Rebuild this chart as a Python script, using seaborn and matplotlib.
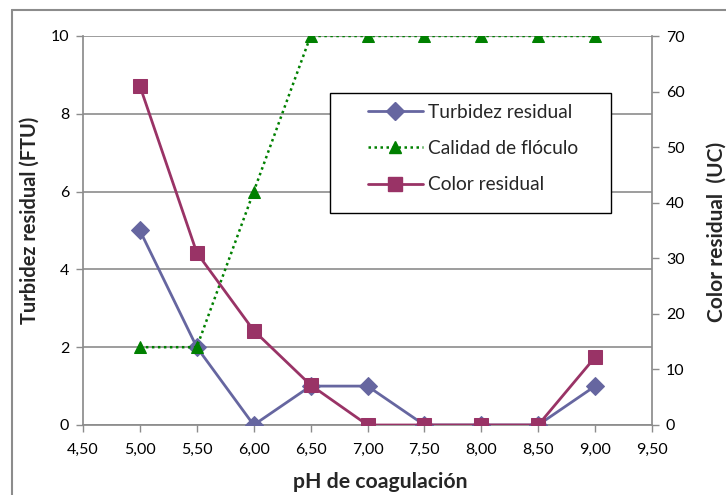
import matplotlib
matplotlib.use("Agg")
import matplotlib.pyplot as plt
from matplotlib.lines import Line2D
from matplotlib.patches import Rectangle
import seaborn as sns
import pandas as pd

# pH values tested in the jar test
ph = [5.0, 5.5, 6.0, 6.5, 7.0, 7.5, 8.0, 8.5, 9.0]
turbidez = [5, 2, 0, 1, 1, 0, 0, 0, 1]          # FTU, left axis
calidad = [2, 2, 6, 10, 10, 10, 10, 10, 10]      # floc quality, left axis
color_res = [61, 31, 17, 7.2, 0, 0, 0, 0, 12.2]   # UC, right axis

x_ticks = [4.5, 5.0, 5.5, 6.0, 6.5, 7.0, 7.5, 8.0, 8.5, 9.0, 9.5]
x_tick_labels = ["4,50", "5,00", "5,50", "6,00", "6,50", "7,00", "7,50",
                 "8,00", "8,50", "9,00", "9,50"]
left_ticks = [0, 2, 4, 6, 8, 10]
right_ticks = [0, 10, 20, 30, 40, 50, 60, 70]

sns.set_theme(style="white")
plt.rcParams["font.family"] = ["Lato", "DejaVu Sans"]

C_TURB = "#6666A0"
C_CAL = "#008000"
C_COL = "#993366"
GRID = "#8C8C8C"
DOTS = (0, (1, 1.4))

df = pd.DataFrame({"ph": ph, "turbidez": turbidez, "calidad": calidad,
                   "color": color_res})

W, H = 726, 495
fig = plt.figure(figsize=(W / 100, H / 100), dpi=100)
ax = fig.add_axes([83 / W, 1 - 425 / H, (652 - 83) / W, (425 - 36) / H])
ax2 = ax.twinx()

sns.lineplot(data=df, x="ph", y="turbidez", ax=ax, color=C_TURB, lw=2,
             marker="D", markersize=9, markeredgecolor=C_TURB, zorder=3)
sns.lineplot(data=df, x="ph", y="calidad", ax=ax, color=C_CAL, lw=1.8,
             linestyle=DOTS, marker="^", markersize=9,
             markeredgecolor=C_CAL, zorder=3)
sns.lineplot(data=df, x="ph", y="color", ax=ax2, color=C_COL, lw=2,
             marker="s", markersize=10, markeredgecolor=C_COL, zorder=3)

ax.set_xlim(4.5, 9.5)
ax.set_ylim(0, 10)
ax2.set_ylim(0, 70)
ax.set_xticks(x_ticks)
ax.set_xticklabels(x_tick_labels)
ax.set_yticks(left_ticks)
ax.set_yticklabels([str(v) for v in left_ticks])
ax2.set_yticks(right_ticks)
ax2.set_yticklabels([str(v) for v in right_ticks])

for a in (ax, ax2):
    a.patch.set_visible(False)
    for s in a.spines.values():
        s.set_visible(False)
ax.spines["left"].set_visible(True)
ax.spines["left"].set_color(GRID)
ax.spines["bottom"].set_visible(True)
ax.spines["bottom"].set_color(GRID)
ax2.spines["right"].set_visible(True)
ax2.spines["right"].set_color(GRID)

ax.yaxis.grid(True, color=GRID, lw=1.2)
ax.set_axisbelow(True)
ax.tick_params(axis="both", which="major", direction="out", length=5,
               width=1, color=GRID, labelsize=11.5, labelcolor="black", pad=5)
ax.tick_params(axis="x", pad=8)
ax2.tick_params(axis="y", direction="out", length=5, width=1, color=GRID,
                labelsize=11.5, labelcolor="black", pad=5)
ax.tick_params(left=True, bottom=True)
ax2.tick_params(right=True)

# axis titles, centred at fixed figure positions
ax.set_xlabel("pH de coagulación", fontsize=13, fontweight="bold")
ax.set_ylabel("Turbidez residual (FTU)", fontsize=13, fontweight="bold")
ax2.set_ylabel("Color residual  (UC)", fontsize=13, fontweight="bold")
for lab in (ax.xaxis.label, ax.yaxis.label, ax2.yaxis.label):
    lab.set_rotation_mode("default")
    lab.set_verticalalignment("center")
    lab.set_horizontalalignment("center")
ax.xaxis.set_label_coords(380 / W, 1 - 482 / H, transform=fig.transFigure)
ax.yaxis.set_label_coords(30 / W, 1 - 220 / H, transform=fig.transFigure)
ax2.yaxis.set_label_coords(717 / W, 1 - 232 / H, transform=fig.transFigure)

# scale each title so its run length fits the space it is given (px)
renderer = fig.canvas.get_renderer()
for lab, span, along_x in ((ax.xaxis.label, 175, True),
                           (ax.yaxis.label, 206, False),
                           (ax2.yaxis.label, 179, False)):
    ext = lab.get_window_extent(renderer)
    cur = ext.width if along_x else ext.height
    lab.set_fontsize(lab.get_fontsize() * span / cur)

# legend: white box with black border, entries laid over it
box = Rectangle((330 / W, 1 - 213 / H), (611 - 330) / W, (213 - 93) / H,
                transform=fig.transFigure, facecolor="white",
                edgecolor="black", lw=1.0, zorder=9)
ax2.add_artist(box)

handles = [
    Line2D([], [], color=C_TURB, lw=2, marker="D", markersize=9),
    Line2D([], [], color=C_CAL, lw=1.8, linestyle=DOTS, marker="^",
           markersize=9),
    Line2D([], [], color=C_COL, lw=2, marker="s", markersize=10),
]
labels = ["Turbidez residual", "Calidad de flóculo", "Color residual"]
leg = ax2.legend(handles, labels, loc="upper left",
                 bbox_to_anchor=(368 / W, 1 - 104 / H),
                 bbox_transform=fig.transFigure,
                 frameon=False, fontsize=13.8,
                 handlelength=2.85, labelspacing=1.0, borderpad=0,
                 borderaxespad=0, handletextpad=0.3)
leg.set_zorder(10)

# chart area border
fig.add_artist(Line2D([12 / W, 1], [1 - 10 / H, 1 - 10 / H],
                      transform=fig.transFigure, color=GRID, lw=1.5))
fig.add_artist(Line2D([12 / W, 12 / W], [0, 1 - 10 / H],
                      transform=fig.transFigure, color=GRID, lw=1.5))

fig.savefig("out.png", dpi=100)
